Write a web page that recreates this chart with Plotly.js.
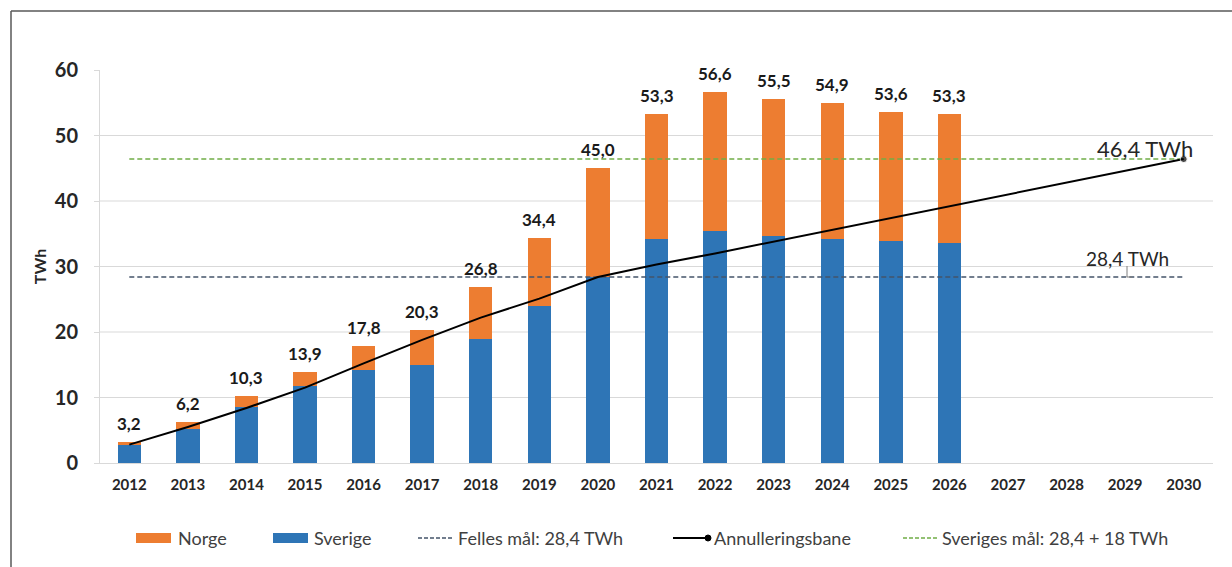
<!DOCTYPE html>
<html>
<head>
<meta charset="utf-8">
<script src="https://cdn.plot.ly/plotly-3.0.1.min.js"></script>
<style>
  html, body { margin: 0; padding: 0; background: #fff; }
  #chart { width: 1232px; height: 567px; }
</style>
</head>
<body>
<div id="chart"></div>
<script>
// ---- Data ----
const years = ['2012','2013','2014','2015','2016','2017','2018','2019','2020','2021','2022','2023','2024','2025','2026','2027','2028','2029','2030'];
const barYears = ['2012','2013','2014','2015','2016','2017','2018','2019','2020','2021','2022','2023','2024','2025','2026'];
const sverige = [2.8, 5.2, 8.5, 11.7, 14.2, 15.0, 19.0, 23.9, 28.4, 34.2, 35.4, 34.6, 34.2, 33.9, 33.6];
const norge   = [0.4, 1.0, 1.8, 2.2, 3.6, 5.3, 7.8, 10.5, 16.6, 19.1, 21.2, 20.9, 20.7, 19.7, 19.7];
const totals  = [3.2, 6.2, 10.3, 13.9, 17.8, 20.3, 26.8, 34.4, 45.0, 53.3, 56.6, 55.5, 54.9, 53.6, 53.3];
const annullering = [2.8, 5.5, 8.4, 11.5, 15.2, 18.8, 22.2, 25.1, 28.4, 30.3, 32.0, 33.8, 35.5, 37.4, 39.2, 41.0, 42.8, 44.6, 46.4];
const fellesYears = ['2012','2030'];
const fellesMaal = [28.4, 28.4];
const sverigesMaal = [46.4, 46.4];
const yTicks = [0, 10, 20, 30, 40, 50, 60];
const gridVals = [10, 20, 30, 40, 50];
const seriesNames = ['Norge', 'Sverige', 'Felles mål: 28,4 TWh', 'Annulleringsbane', 'Sveriges mål: 28,4 + 18 TWh'];
const goalLabels = ['46,4 TWh', '28,4 TWh'];

// ---- Style ----
const C_NORGE = '#ED7D31', C_SVERIGE = '#2E75B6', C_FELLES = '#44546A', C_SVM = '#70AD47';
const FONT = 'Lato, "Open Sans", sans-serif';
const TXT = '#262626';
const W = 1232, H = 567, ML = 100, MR = 19, MT = 70, MB = 104;
const PW = W - ML - MR, PH = H - MT - MB;
const px = x => (x - ML) / PW;
const py = y => (H - MB - y) / PH;

const traces = [
  { type: 'bar', name: seriesNames[1], x: barYears, y: sverige, marker: { color: C_SVERIGE }, showlegend: false },
  { type: 'bar', name: seriesNames[0], x: barYears, y: norge, marker: { color: C_NORGE }, showlegend: false },
  { type: 'scatter', mode: 'lines', name: seriesNames[2], x: fellesYears, y: fellesMaal,
    line: { color: C_FELLES, width: 1.5, dash: '5px,3px' }, showlegend: false },
  { type: 'scatter', mode: 'lines', name: seriesNames[4], x: fellesYears, y: sverigesMaal,
    line: { color: C_SVM, width: 1.5, dash: '5px,3px' }, showlegend: false },
  { type: 'scatter', mode: 'lines+markers', name: seriesNames[3], x: years, y: annullering,
    line: { color: '#000000', width: 2 },
    marker: { color: '#000000', size: years.map((y, i) => i === years.length - 1 ? 7 : 0) },
    showlegend: false }
];

const shapes = [];
gridVals.forEach(v => shapes.push({ type: 'line', xref: 'paper', yref: 'y', x0: 0, x1: 1, y0: v, y1: v,
  line: { color: '#D9D9D9', width: 1 }, layer: 'below' }));
// leader line for 28,4 TWh
shapes.push({ type: 'line', xref: 'paper', yref: 'paper', x0: px(1127), x1: px(1127), y0: py(266), y1: py(277), line: { color: '#7f7f7f', width: 1 } });
shapes.push({ type: 'line', xref: 'paper', yref: 'paper', x0: px(1127), x1: px(1132), y0: py(277), y1: py(277), line: { color: '#7f7f7f', width: 1 } });
// chart frame (top + left)
shapes.push({ type: 'line', xref: 'paper', yref: 'paper', x0: px(11), x1: px(1232), y0: py(11), y1: py(11), line: { color: '#595959', width: 1.5 } });
shapes.push({ type: 'line', xref: 'paper', yref: 'paper', x0: px(11), x1: px(11), y0: py(11), y1: py(567), line: { color: '#595959', width: 1.5 } });

// custom legend
const LY = 538;
shapes.push({ type: 'rect', xref: 'paper', yref: 'paper', x0: px(136), x1: px(171), y0: py(533), y1: py(543), fillcolor: C_NORGE, line: { width: 0 } });
shapes.push({ type: 'rect', xref: 'paper', yref: 'paper', x0: px(273), x1: px(308), y0: py(533), y1: py(543), fillcolor: C_SVERIGE, line: { width: 0 } });
shapes.push({ type: 'line', xref: 'paper', yref: 'paper', x0: px(418), x1: px(454), y0: py(LY), y1: py(LY), line: { color: C_FELLES, width: 1.5, dash: '4px,2px' } });
shapes.push({ type: 'line', xref: 'paper', yref: 'paper', x0: px(673), x1: px(708), y0: py(LY), y1: py(LY), line: { color: '#000', width: 2 } });
shapes.push({ type: 'circle', xref: 'paper', yref: 'paper', x0: px(705), x1: px(711), y0: py(LY - 3), y1: py(LY + 3), fillcolor: '#000', line: { color: '#000', width: 1 } });
shapes.push({ type: 'line', xref: 'paper', yref: 'paper', x0: px(903), x1: px(938), y0: py(LY), y1: py(LY), line: { color: C_SVM, width: 1.5, dash: '4px,2px' } });

const legFont = { family: FONT, size: 18, color: '#404040' };
const legTextX = [176, 312, 456, 712, 940];
const annotations = seriesNames.map((name, i) => ({
  xref: 'paper', yref: 'paper', x: px(legTextX[i]), y: py(LY), xanchor: 'left', yanchor: 'middle',
  text: name, showarrow: false, font: legFont
}));
annotations.push({ xref: 'paper', yref: 'paper', x: px(1145), y: py(148), xanchor: 'center', yanchor: 'middle',
  text: goalLabels[0], showarrow: false, font: { family: FONT, size: 22, color: TXT } });
annotations.push({ xref: 'paper', yref: 'paper', x: px(1127), y: py(258), xanchor: 'center', yanchor: 'middle',
  text: goalLabels[1], showarrow: false, font: { family: FONT, size: 19, color: TXT } });
// total labels above bars (category axis: position by category index)
barYears.forEach((yr, i) => annotations.push({
  xref: 'x', yref: 'y', x: years.indexOf(yr), y: totals[i], xanchor: 'center', yanchor: 'bottom', yshift: 6,
  text: totals[i].toFixed(1).replace('.', ','), showarrow: false,
  font: { family: FONT, size: 17, color: '#1a1a1a', weight: 'bold' }
}));

const layout = {
  width: W, height: H,
  margin: { l: ML, r: MR, t: MT, b: MB, pad: 0 },
  paper_bgcolor: '#ffffff', plot_bgcolor: '#ffffff',
  barmode: 'stack', bargap: 0.6,
  showlegend: false,
  xaxis: {
    type: 'category', categoryorder: 'array', categoryarray: years, range: [-0.5, 18.5],
    showgrid: false, zeroline: false, showline: true, linecolor: '#D9D9D9', linewidth: 1,
    ticks: '', ticklabelstandoff: 8,
    tickfont: { family: FONT, size: 15, color: TXT, weight: 'bold' }
  },
  yaxis: {
    range: [0, 60], tickvals: yTicks, showgrid: false, zeroline: false,
    showline: true, linecolor: '#D9D9D9', linewidth: 1,
    ticks: 'outside', ticklen: 5, tickcolor: '#D9D9D9', ticklabelstandoff: 12,
    tickfont: { family: FONT, size: 20, color: TXT, weight: 'bold' },
    title: { text: 'TWh', font: { family: FONT, size: 16, color: TXT, weight: 'bold' }, standoff: 4 }
  },
  shapes: shapes,
  annotations: annotations
};

Plotly.newPlot('chart', traces, layout, { displayModeBar: false, staticPlot: true });
</script>
</body>
</html>
